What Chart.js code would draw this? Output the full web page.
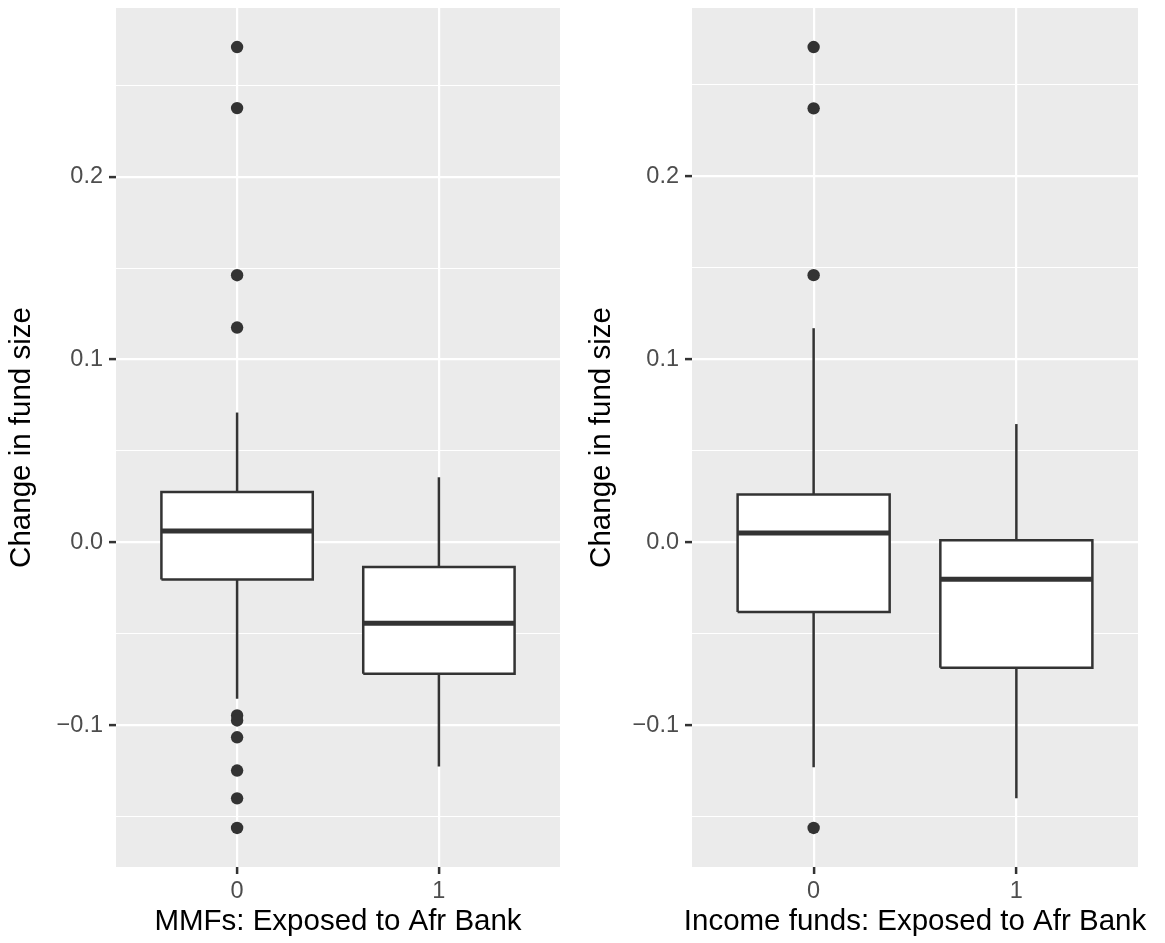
<!DOCTYPE html>
<html>
<head>
<meta charset="utf-8">
<title>Change in fund size by exposure to Afr Bank</title>
<script src="https://cdn.jsdelivr.net/npm/chart.js@4/dist/chart.umd.min.js"></script>
<style>
  html, body { margin: 0; padding: 0; background: #ffffff; }
  #wrap { position: relative; width: 1165px; height: 943px; }
  canvas { position: absolute; top: 0; }
  #mmf { left: 0; }
  #income { left: 582px; }
</style>
</head>
<body>
<div id="wrap">
  <canvas id="mmf" width="582" height="943"></canvas>
  <canvas id="income" width="583" height="943"></canvas>
</div>
<script>
// Exposure groups shown along the x axis
const groups = ['0', '1'];

// Money market funds: box statistics per group
const mmfLowerWhisker = [-0.0856, -0.1226];
const mmfQ1 = [-0.0203, -0.0719];
const mmfMedian = [0.0062, -0.0442];
const mmfQ3 = [0.0275, -0.0135];
const mmfUpperWhisker = [0.0710, 0.0356];
const mmfOutliers = [
  [0.2709, 0.2375, 0.1461, 0.1175, -0.0947, -0.0974, -0.1066, -0.1248, -0.1400, -0.1562],
  []
];

// Income funds: box statistics per group
const incLowerWhisker = [-0.1230, -0.1400];
const incQ1 = [-0.0381, -0.0686];
const incMedian = [0.0051, -0.0203];
const incQ3 = [0.0261, 0.0011];
const incUpperWhisker = [0.1170, 0.0646];
const incOutliers = [
  [0.2707, 0.2372, 0.1460, -0.1562],
  []
];

// Y axis gridlines: labelled majors and unlabelled minors
const yMajorTicks = [-0.1, 0, 0.1, 0.2];
const yMajorLabels = ['\u22120.1', '0.0', '0.1', '0.2'];
const yMinorTicks = [-0.15, -0.05, 0.05, 0.15, 0.25];

const FONT = '"Liberation Sans", Arial, Helvetica, sans-serif';
const INK = '#333333';
const PANEL = '#EBEBEB';
const BOX_HALF = 0.375;
const LINE_W = 2.5;
const TITLE_SIZE = 29.5;

// Shaded plotting panel behind the gridlines
const panelBackground = {
  id: 'panelBackground',
  beforeDraw(chart) {
    const a = chart.chartArea;
    const ctx = chart.ctx;
    ctx.save();
    ctx.fillStyle = PANEL;
    ctx.fillRect(a.left, a.top, a.right - a.left, a.bottom - a.top);
    ctx.restore();
  }
};

// X axis caption centred under the panel, free to run wider than the panel
const xCaption = {
  id: 'xCaption',
  afterDraw(chart, args, opts) {
    const a = chart.chartArea;
    const ctx = chart.ctx;
    ctx.save();
    ctx.fillStyle = '#000000';
    ctx.font = TITLE_SIZE + 'px ' + FONT;
    ctx.textAlign = 'center';
    ctx.textBaseline = 'middle';
    ctx.fillText(opts.text, (a.left + a.right) / 2, chart.height - 21.5);
    ctx.restore();
  }
};

function isMajor(v) {
  return yMajorTicks.some(m => Math.abs(m - v) < 1e-9);
}

function boxDatasets(lower, q1, med, q3, upper, outliers) {
  const sets = [];
  groups.forEach((g, i) => {
    const c = i + 1;
    // whiskers
    sets.push({
      data: [{x: c, y: q3[i]}, {x: c, y: upper[i]}],
      borderColor: INK, borderWidth: LINE_W, pointRadius: 0, order: 6
    });
    sets.push({
      data: [{x: c, y: q1[i]}, {x: c, y: lower[i]}],
      borderColor: INK, borderWidth: LINE_W, pointRadius: 0, order: 6
    });
    // white box body
    sets.push({
      data: [{x: c - BOX_HALF, y: q3[i]}, {x: c + BOX_HALF, y: q3[i]}],
      borderColor: 'rgba(0,0,0,0)', borderWidth: 0, pointRadius: 0,
      fill: {value: q1[i]}, backgroundColor: '#ffffff', order: 5
    });
    // box outline
    sets.push({
      data: [
        {x: c - BOX_HALF, y: q1[i]}, {x: c + BOX_HALF, y: q1[i]},
        {x: c + BOX_HALF, y: q3[i]}, {x: c - BOX_HALF, y: q3[i]},
        {x: c - BOX_HALF, y: q1[i]}
      ],
      borderColor: INK, borderWidth: LINE_W, pointRadius: 0, order: 4,
      borderJoinStyle: 'miter'
    });
    // median
    sets.push({
      data: [{x: c - BOX_HALF, y: med[i]}, {x: c + BOX_HALF, y: med[i]}],
      borderColor: INK, borderWidth: 5, pointRadius: 0, order: 3
    });
    // outlying points
    if (outliers[i].length) {
      sets.push({
        data: outliers[i].map(v => ({x: c, y: v})),
        showLine: false, pointRadius: 6.2, pointHoverRadius: 6.2,
        pointBackgroundColor: INK, pointBorderWidth: 0, borderColor: INK, order: 1
      });
    }
  });
  return sets;
}

function makePanel(id, cfg) {
  const all = [].concat(cfg.lower, cfg.upper, ...cfg.outliers);
  const lo = Math.min(...all), hi = Math.max(...all);
  const pad = (hi - lo) * 0.05;

  return new Chart(document.getElementById(id), {
    type: 'line',
    data: {
      datasets: boxDatasets(cfg.lower, cfg.q1, cfg.median, cfg.q3, cfg.upper, cfg.outliers)
    },
    options: {
      responsive: false,
      animation: false,
      devicePixelRatio: 1,
      layout: {padding: {left: 0, top: 8, right: cfg.rightPad, bottom: 0}},
      plugins: {
        legend: {display: false},
        tooltip: {enabled: false},
        xCaption: {text: cfg.xTitle}
      },
      elements: {line: {tension: 0}},
      scales: {
        x: {
          type: 'linear',
          min: 0.4,
          max: 2.6,
          afterBuildTicks(scale) {
            scale.ticks = groups.map((g, i) => ({value: i + 1}));
          },
          afterFit(scale) {
            scale.height = 76;
            scale.paddingLeft = 0;
            scale.paddingRight = 0;
          },
          border: {display: false},
          grid: {
            color: '#ffffff', lineWidth: 2.2,
            drawTicks: true, tickLength: 7, tickColor: INK, tickWidth: LINE_W
          },
          ticks: {
            autoSkip: false, maxRotation: 0, padding: 3,
            color: '#4D4D4D', font: {family: FONT, size: 23.5},
            callback: (v) => groups[Math.round(v) - 1]
          },
          title: {display: false}
        },
        y: {
          type: 'linear',
          min: lo - pad,
          max: hi + pad,
          afterBuildTicks(scale) {
            scale.ticks = yMinorTicks.concat(yMajorTicks)
              .sort((a, b) => a - b).map(v => ({value: v}));
          },
          afterFit(scale) {
            scale.width = cfg.axisWidth;
            scale.paddingTop = 0;
            scale.paddingBottom = 0;
          },
          border: {display: false},
          grid: {
            color: '#ffffff',
            lineWidth: (ctx) => (ctx.tick && isMajor(ctx.tick.value)) ? 2.2 : 1.1,
            drawTicks: true, tickLength: 7,
            tickColor: (ctx) => (ctx.tick && isMajor(ctx.tick.value)) ? INK : 'rgba(0,0,0,0)',
            tickWidth: LINE_W
          },
          ticks: {
            autoSkip: false, padding: 6,
            color: '#4D4D4D', font: {family: FONT, size: 23.5},
            callback: (v) => {
              const k = yMajorTicks.findIndex(m => Math.abs(m - v) < 1e-9);
              return k >= 0 ? yMajorLabels[k] : '';
            }
          },
          title: {
            display: true, text: 'Change in fund size', color: '#000000',
            font: {family: FONT, size: TITLE_SIZE}, padding: {top: cfg.titleGap, bottom: 0}
          }
        }
      }
    },
    plugins: [panelBackground, xCaption]
  });
}

makePanel('mmf', {
  lower: mmfLowerWhisker, q1: mmfQ1, median: mmfMedian, q3: mmfQ3,
  upper: mmfUpperWhisker, outliers: mmfOutliers,
  xTitle: 'MMFs: Exposed to Afr Bank',
  axisWidth: 116, rightPad: 22, titleGap: 4
});

makePanel('income', {
  lower: incLowerWhisker, q1: incQ1, median: incMedian, q3: incQ3,
  upper: incUpperWhisker, outliers: incOutliers,
  xTitle: 'Income funds: Exposed to Afr Bank',
  axisWidth: 110, rightPad: 27, titleGap: 2
});
</script>
</body>
</html>
